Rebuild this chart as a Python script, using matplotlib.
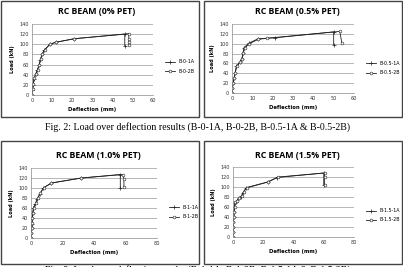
import matplotlib
matplotlib.use("Agg")
import matplotlib.pyplot as plt
from matplotlib.patches import Rectangle

# ---- data (deflection mm, load kN) ----
titles = ["RC BEAM (0% PET)", "RC BEAM (0.5% PET)", "RC BEAM (1.0% PET)", "RC BEAM (1.5% PET)"]
labels = [("B-0-1A", "B-0-2B"), ("B-0.5-1A", "B-0.5-2B"), ("B-1-1A", "B-1-2B"), ("B-1.5-1A", "B-1.5-2B")]
xmax = [60, 60, 80, 80]

d0_1a = [0, 0.2, 0.5, 1.0, 1.8, 2.6, 3.5, 4.1, 5.0, 6.0, 8.8, 11.7, 21, 46, 46]
p0_1a = [0, 10, 20, 32, 41, 49, 59, 70, 80, 88, 100, 104, 111, 120, 97]
d0_2b = [0, 0.3, 0.6, 1.1, 2.0, 2.8, 3.6, 4.3, 5.2, 6.2, 9.0, 12, 21, 48, 48, 48, 48]
p0_2b = [0, 11, 21, 33, 42, 50, 60, 71, 81, 89, 100, 104, 111, 121, 111, 104, 98]

d05_1a = [0, 0, 0.5, 1.0, 1.5, 2.1, 3.8, 4.8, 5.4, 5.9, 8.2, 12.8, 21, 50, 50]
p05_1a = [0, 10, 20, 30, 40, 54, 62, 69, 81, 92, 101, 110, 112, 124, 98]
d05_2b = [0, 0.2, 0.6, 1.1, 1.6, 2.4, 4.0, 5.0, 5.6, 6.2, 8.5, 13, 17, 53, 54]
p05_2b = [0, 10, 20, 31, 41, 55, 62, 70, 82, 91, 100, 109, 111, 125, 102]

d1_1a = [0, 0, 0.4, 0.6, 0.8, 1.0, 1.5, 2.8, 4.0, 5.7, 7.9, 13, 32, 56.7, 56.7]
p1_1a = [0, 10.7, 20, 29, 40, 50, 60, 69, 79, 89, 100, 110, 120, 127, 100]
d1_2b = [0, 0.2, 0.5, 0.7, 0.9, 1.2, 1.8, 3.2, 4.5, 6.0, 8.2, 13, 32, 58.5, 59, 59]
p1_2b = [0, 11, 20, 30, 40, 50, 61, 70, 80, 90, 101, 110, 120, 127, 118, 103]

d15_1a = [0, 0, 0, 0.2, 0.4, 0.7, 0.9, 1.3, 2.2, 4.0, 5.5, 6.6, 8.8, 23, 29, 60, 60]
p15_1a = [0, 10, 20, 30, 40, 50, 60, 69, 71, 78, 81, 89, 98, 110, 119, 128, 104]
d15_2b = [0, 0, 0.1, 0.3, 0.5, 0.8, 1.0, 1.5, 2.5, 4.2, 5.8, 7.0, 9.0, 23, 30, 60.5, 60.5, 60.5]
p15_2b = [0, 10, 20, 30, 40, 50, 60, 70, 72, 79, 82, 90, 99, 110, 120, 128, 120, 104]

series = [
    ((d0_1a, p0_1a), (d0_2b, p0_2b)),
    ((d05_1a, p05_1a), (d05_2b, p05_2b)),
    ((d1_1a, p1_1a), (d1_2b, p1_2b)),
    ((d15_1a, p15_1a), (d15_2b, p15_2b)),
]

W, H = 403, 267
fig = plt.figure(figsize=(W / 100, H / 100), dpi=100)


def px_rect(x0, y0, x1, y1):
    # pixel box (top-left origin) -> figure fraction [left, bottom, width, height]
    return [x0 / W, 1 - y1 / H, (x1 - x0) / W, (y1 - y0) / H]


# panel frames
for (x0, y0, x1, y1) in [(1, 1, 199, 117), (204, 1, 402, 117), (1, 141, 199, 264), (204, 141, 402, 264)]:
    fig.patches.append(Rectangle((x0 / W, 1 - y1 / H), (x1 - x0) / W, (y1 - y0) / H,
                                 transform=fig.transFigure, fill=False, edgecolor="#444444", linewidth=1.0))

axes_px = [(32, 24, 153, 95), (232, 24, 354, 93), (31, 168, 157, 238), (233, 167, 354, 237)]
title_y = [12, 12, 156, 156]
legend_y = [0.40, 0.36, 0.37, 0.31]

for i, ax_box in enumerate(axes_px):
    ax = fig.add_axes(px_rect(*ax_box))
    (xa, ya), (xb, yb) = series[i]
    ax.plot(xa, ya, color="#222222", linewidth=0.6, marker="+", markersize=2.4,
            markeredgewidth=0.5, label=labels[i][0])
    ax.plot(xb, yb, color="#222222", linewidth=0.6, marker="o", markersize=2.0,
            markerfacecolor="white", markeredgewidth=0.4, label=labels[i][1])
    ax.set_xlim(0, xmax[i])
    ax.set_ylim(0, 140)
    ax.set_yticks(range(0, 141, 20))
    ax.set_xticks(range(0, xmax[i] + 1, 10 if xmax[i] == 60 else 20))
    ax.tick_params(labelsize=3.6, length=0, pad=2, colors="#333333")
    ax.grid(axis="y", color="#9a9a9a", linewidth=0.5)
    ax.set_axisbelow(True)
    for s in ["top", "right"]:
        ax.spines[s].set_visible(False)
    for s in ["left", "bottom"]:
        ax.spines[s].set_color("#888888")
        ax.spines[s].set_linewidth(0.5)
    ax.set_xlabel("Deflection (mm)", fontsize=3.8, fontweight="bold", labelpad=3)
    ax.set_ylabel("Load (kN)", fontsize=3.6, fontweight="bold", labelpad=3)
    ax.legend(loc="center left", bbox_to_anchor=(1.06, legend_y[i]), frameon=False, fontsize=3.4,
              handlelength=2.2, labelspacing=0.9)
    cx = (ax_box[0] + ax_box[2]) / 2 / W
    fig.text(cx + 0.01, 1 - title_y[i] / H, titles[i], ha="center", va="center",
             fontsize=6.3, fontweight="bold", family="Open Sans")

fig.text(0.49, 1 - 127 / H, "Fig. 2: Load over deflection results (B-0-1A, B-0-2B, B-0.5-1A & B-0.5-2B)",
         ha="center", va="center", fontsize=7.1, family="Liberation Serif")
fig.text(0.49, 1 - 270 / H, "Fig. 3: Load over deflection results (B-1-1A, B-1-2B, B-1.5-1A & B-1.5-2B)",
         ha="center", va="center", fontsize=7.1, family="Liberation Serif")

fig.savefig("out.png", dpi=100)
